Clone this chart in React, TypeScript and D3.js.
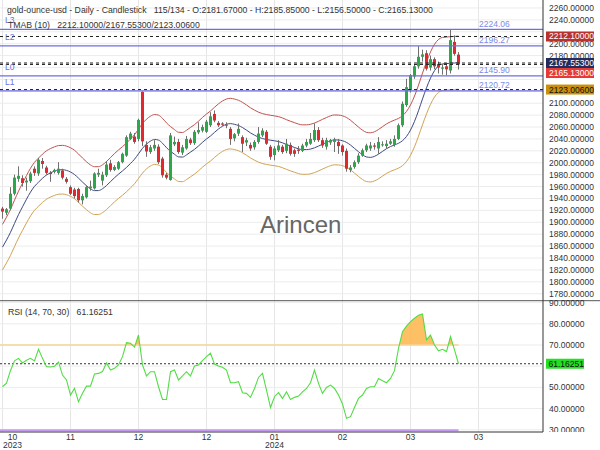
import React from 'react';
import * as d3 from 'd3';

const opens = [1923,1916,1923,1948,1973,1974,1967,1969,1990,1982,2003,1992,1983,1985,1983,1987,1973,1959,1955,1956,1937,1942,1957,1957,1980,1970,1979,1999,1988,1990,2001,2012,2040,2044,2040,2119,2030,2018,2024,2027,2007,1980,1971,2031,2035,2017,2024,2039,2033,2051,2054,2052,2063,2082,2067,2066,2064,2057,2041,2049,2043,2034,2030,2026,2035,2046,2052,2027,2013,2021,2027,2020,2030,2021,2022,2020,2029,2032,2038,2055,2038,2027,2034,2035,2035,2029,2020,1988,1993,2001,2012,2021,2024,2029,2024,2030,2028,2032,2030,2040,2063,2097,2122,2145,2162,2178,2184,2160,2174,2166,2158,2162,2155,2203,2181.67];
const highs = [1926,1924,1959,1980,1994,1979,1975,1985,1994,2008,2008,1995,1986,1990,2001,1990,1976,1962,1958,1958,1948,1962,1970,1984,1990,1985,2003,2005,1996,2003,2017,2046,2052,2050,2074,2120,2036,2030,2038,2031,2010,1983,2050,2044,2040,2030,2045,2042,2055,2068,2064,2072,2085,2088,2070,2068,2068,2060,2050,2066,2046,2042,2034,2038,2060,2058,2055,2030,2028,2038,2030,2040,2034,2024,2028,2032,2040,2050,2066,2060,2042,2042,2040,2042,2040,2031,2024,1996,2004,2016,2024,2032,2035,2033,2043,2036,2038,2040,2046,2066,2103,2141,2149,2166,2196,2190,2189,2180,2177,2170,2166,2167,2223,2214,2185.85];
const lows = [1906,1912,1920,1945,1968,1960,1953,1966,1978,1978,1990,1980,1968,1982,1980,1972,1965,1946,1940,1933,1930,1940,1953,1955,1976,1962,1976,1985,1986,1988,1999,2010,2038,2032,2036,2028,2010,2015,2020,1998,1975,1972,1970,2028,2015,2013,2022,2030,2030,2048,2051,2050,2060,2068,2060,2062,2058,2030,2036,2045,2018,2028,2020,2022,2032,2043,2030,2005,2004,2018,2015,2016,2012,2010,2015,2018,2026,2030,2035,2035,2025,2022,2030,2018,2015,2012,1985,1984,1990,1998,2010,2018,2020,2022,2015,2027,2024,2030,2027,2038,2060,2094,2118,2141,2158,2170,2155,2155,2157,2150,2148,2147,2150,2180,2156.5];
const closes = [1918,1922,1948,1975,1978,1966,1970,1982,1983,2005,1998,1983,1981,1988,1990,1975,1968,1948,1944,1937,1944,1959,1960,1982,1983,1980,1997,1988,1993,2001,2015,2043,2049,2035,2072,2036,2019,2026,2030,2001,1979,1975,2046,2035,2018,2026,2040,2033,2052,2055,2060,2069,2078,2071,2063,2064,2063,2040,2048,2057,2032,2038,2024,2035,2049,2054,2032,2010,2024,2029,2018,2032,2015,2015,2020,2029,2035,2040,2055,2038,2029,2038,2038,2039,2028,2018,1990,1992,2001,2012,2021,2029,2029,2027,2035,2031,2032,2036,2040,2063,2099,2127,2147,2162,2178,2182,2158,2174,2162,2160,2160,2157,2206,2183,2165.13];
// closes before the first visible candle (needed to start the TMA band)
const warmupCloses = [1827,1822,1821,1820,1833,1861,1861,1874,1868,1932];

const rsiValues = [50.3,52,58,62.5,63.7,61.5,62.8,63.7,62.5,68,63.7,59.8,59.6,60,62,55.8,53.5,46.4,49.5,43.2,47.2,50.6,50.6,56.3,56.6,57.5,61.5,58.2,59,60.6,64.5,71.1,70.8,69,74.7,60.6,55.4,57.4,57.4,50.3,44.3,44.3,57.4,58.2,53.5,55.4,57.4,55.4,60.1,60.6,62.6,64.5,66.1,61,60.1,59.5,58.2,52.2,52.2,52.7,47.5,47.2,45.3,49.5,54.7,56.6,48.7,40.5,45.6,47.5,44.8,47.9,44.3,45.3,45.9,47.9,49.5,52.2,58.2,51.9,47.2,50,51.1,49.5,46.4,42.2,35.4,36.2,40.5,44.8,46.4,49.5,50.3,50.3,54.2,53.1,52.2,54.2,57.9,68.4,76.3,78.9,81,82.6,84,84.6,72.4,74.7,70,67.3,68,66.9,74,67.7,61.16251];

const levelNames = ['L3', 'L2', 'L0', 'L1'];
const levelValues = [2224.06, 2196.27, 2145.90, 2120.72];
const tmabLast = [2212.1, 2167.553, 2123.006];
const tmabPercent = 2.055;
const lastClose = 2165.13;
const rsiLast = 61.16251;
const totalSlots = 134;
const xTickIndex = [0, 17, 34, 51, 68, 85, 102, 119];
const xTickMonth = ['10', '11', '12', '12', '01', '02', '03', '03'];
const xTickYear = ['2023', '', '', '', '2024', '', '', ''];
const priceTicks = d3.range(1780, 2261, 20);
const rsiTicks = [30, 40, 50, 60, 70, 80, 90];

const FONT = '"Liberation Sans", Arial, sans-serif';
const PLOT_R = 543;
const MAIN_BOT = 300.7;
const RSI_TOP = 300.7;
const RSI_BOT = 432;
const AX_FS = 8.5;

function sma(arr: number[], n: number): number[] {
  return arr.map((_, i) => {
    if (i < n - 1) return NaN;
    const s = arr.slice(i - n + 1, i + 1);
    if (s.some((v) => isNaN(v))) return NaN;
    return d3.sum(s) / n;
  });
}

export default function App() {
  const x = d3.scaleLinear().domain([0, totalSlots - 1]).range([2.5, 2.5 + 4 * (totalSlots - 1)]);
  const y = d3.scaleLinear().domain([1768.3, 2273.4]).range([MAIN_BOT, 0]);
  const yr = d3.scaleLinear().domain([28.96, 90.9]).range([RSI_BOT, RSI_TOP]);

  const all = [...warmupCloses, ...closes];
  const tmaAll = sma(sma(all, 5), 6);
  const tma = tmaAll.slice(warmupCloses.length);
  const k = tmabPercent / 100;
  const mid = tma.map((v, i) => [i, v] as [number, number]);
  const up = tma.map((v, i) => [i, v * (1 + k)] as [number, number]);
  const lo = tma.map((v, i) => [i, v * (1 - k)] as [number, number]);
  const line = d3.line<[number, number]>().x((d) => x(d[0])).y((d) => y(d[1])).curve(d3.curveMonotoneX);

  const rsiLine = d3.line<number>().x((_, i) => x(i)).y((d) => yr(d));
  const rsiArea = d3.area<number>().x((_, i) => x(i)).y0(yr(70)).y1((d) => yr(d));
  const lastX = x(closes.length - 1);

  // price boxes with collision avoidance
  const boxes = [
    { v: tmabLast[0], bg: '#b8322e', fg: '#fff' },
    { v: tmabLast[1], bg: '#232b5e', fg: '#fff' },
    { v: lastClose, bg: '#e53a35', fg: '#fff' },
    { v: tmabLast[2], bg: '#c8900c', fg: '#111' },
  ].sort((a, b) => b.v - a.v);
  let prevY = -100;
  const placed = boxes.map((b) => {
    let cy = y(b.v);
    if (cy < prevY + 10) cy = prevY + 10;
    prevY = cy;
    return { ...b, cy };
  });
  const coveredPrice = (t: number) => placed.some((b) => Math.abs(y(t) - b.cy) < 7);
  const coveredRsi = (t: number) => Math.abs(yr(t) - yr(rsiLast)) < 7;

  return (
    <svg width={600} height={450} style={{ position: 'fixed', left: 0, top: 0, background: '#fff' }} fontFamily={FONT}>
      <defs>
        <clipPath id="above70">
          <rect x={0} y={RSI_TOP} width={PLOT_R} height={yr(70) - RSI_TOP} />
        </clipPath>
        <clipPath id="rsiAxis">
          <rect x={544} y={295} width={56} height={RSI_BOT - 295} />
        </clipPath>
        <clipPath id="mainClip">
          <rect x={0} y={0} width={PLOT_R} height={MAIN_BOT} />
        </clipPath>
      </defs>
      <rect x={0} y={0} width={600} height={450} fill="#fff" />
      {/* grid */}
      {xTickIndex.map((t, i) => (
        <line key={'vg' + i} x1={x(t)} x2={x(t)} y1={0} y2={RSI_BOT} stroke="#e6e6e6" strokeWidth={1} />
      ))}
      {priceTicks.map((t) => (
        <line key={'hg' + t} x1={0} x2={PLOT_R} y1={y(t)} y2={y(t)} stroke="#ececec" strokeWidth={1} />
      ))}
      {rsiTicks.map((t) => (
        <line key={'rg' + t} x1={0} x2={PLOT_R} y1={yr(t)} y2={yr(t)} stroke="#ececec" strokeWidth={1} />
      ))}
      {/* watermark */}
      <text x={260} y={232.5} fontSize={24} fill="#666">Arincen</text>

      <g clipPath="url(#mainClip)">
        {/* TMA bands */}
        <path d={line(up) || ''} fill="none" stroke="#c4504c" strokeWidth={1} />
        <path d={line(mid) || ''} fill="none" stroke="#3c4a82" strokeWidth={1} />
        <path d={line(lo) || ''} fill="none" stroke="#d3a24e" strokeWidth={1} />
        {/* candles */}
        {closes.map((c, i) => {
          const o = opens[i];
          const up2 = c >= o;
          const col = up2 ? '#2aa84a' : '#e0282e';
          const top = y(Math.max(o, c));
          const bot = y(Math.min(o, c));
          return (
            <g key={'c' + i}>
              <line x1={x(i)} x2={x(i)} y1={y(highs[i])} y2={y(lows[i])} stroke="#707070" strokeWidth={1} />
              <rect x={x(i) - 1.5} y={top} width={3} height={Math.max(1, bot - top)} fill={col} />
            </g>
          );
        })}
        {/* levels */}
        {levelValues.map((v, i) => (
          <line key={'lv' + i} x1={0} x2={PLOT_R} y1={y(v)} y2={y(v)} stroke="#6e6ee6" strokeWidth={1.3} />
        ))}
        {[tmabLast[0], tmabLast[1], lastClose, tmabLast[2]].map((v, i) => (
          <line key={'dl' + i} x1={0} x2={PLOT_R} y1={y(v)} y2={y(v)} stroke="#222" strokeWidth={1} strokeDasharray="3,3" />
        ))}
      </g>
      {levelValues.map((v, i) => (
        <g key={'lt' + i}>
          <text x={5} y={y(v) - 6} fontSize={8.5} fill="#6a72dc">{levelNames[i]}</text>
          <text x={479} y={y(v) - 2.5} fontSize={8.5} fill="#7b8ae4">{v.toFixed(2)}</text>
        </g>
      ))}

      {/* RSI */}
      <path d={rsiArea(rsiValues) || ''} fill="#fdb54a" fillOpacity={0.85} clipPath="url(#above70)" />
      <line x1={0} x2={lastX} y1={yr(70)} y2={yr(70)} stroke="#f6d495" strokeWidth={1.5} />
      <line x1={0} x2={lastX} y1={yr(30) + 0.5} y2={yr(30) + 0.5} stroke="#c49af2" strokeWidth={2} />
      <line x1={0} x2={PLOT_R} y1={yr(rsiLast)} y2={yr(rsiLast)} stroke="#333" strokeWidth={1} strokeDasharray="2,2" />
      <path d={rsiLine(rsiValues) || ''} fill="none" stroke="#52dd45" strokeWidth={1.1} />

      {/* frame */}
      <line x1={0} x2={600} y1={RSI_TOP} y2={RSI_TOP} stroke="#555" strokeWidth={1} />
      <line x1={0} x2={PLOT_R} y1={RSI_BOT} y2={RSI_BOT} stroke="#333" strokeWidth={1} />
      <line x1={PLOT_R} x2={PLOT_R} y1={0} y2={RSI_BOT} stroke="#333" strokeWidth={1} />

      {/* price axis */}
      {priceTicks.filter((t) => !coveredPrice(t)).map((t) => (
        <text key={'pt' + t} x={549} y={y(t) + 3} fontSize={AX_FS} fill="#333">{t.toFixed(5)}</text>
      ))}
      <g clipPath="url(#rsiAxis)">
        {rsiTicks.filter((t) => !coveredRsi(t)).map((t) => (
          <text key={'rt' + t} x={549} y={yr(t) + 3} fontSize={AX_FS} fill="#333">{t.toFixed(5)}</text>
        ))}
      </g>
      {placed.map((b, i) => (
        <g key={'bx' + i}>
          <rect x={546} y={b.cy - 5} width={48} height={10} fill={b.bg} />
          <text x={549} y={b.cy + 3} fontSize={AX_FS} fill={b.fg}>{b.v.toFixed(5)}</text>
        </g>
      ))}
      <rect x={546} y={yr(rsiLast) - 5} width={38} height={10} fill="#22e022" />
      <text x={548.5} y={yr(rsiLast) + 3} fontSize={AX_FS} fill="#111">{rsiLast.toFixed(5)}</text>

      {/* x axis */}
      {xTickIndex.map((t, i) => {
        const cx = Math.max(x(t), 12.5);
        return (
          <g key={'xt' + i}>
            <text x={cx} y={439.5} fontSize={AX_FS} fill="#333" textAnchor="middle">{xTickMonth[i]}</text>
            {xTickYear[i] && (
              <text x={cx} y={448} fontSize={AX_FS} fill="#333" textAnchor="middle">{xTickYear[i]}</text>
            )}
          </g>
        );
      })}

      {/* titles */}
      <text x={7} y={13} fontSize={8.7} fill="#333" style={{ whiteSpace: 'pre' }}>
        {'gold-ounce-usd - Daily - Candlestick   115/134 - O:2181.67000 - H:2185.85000 - L:2156.50000 - C:2165.13000'}
      </text>
      <text x={8} y={28} fontSize={8.7} fill="#333" style={{ whiteSpace: 'pre' }}>
        {'TMAB (10)   ' + tmabLast.map((v) => v.toFixed(5)).join('/')}
      </text>
      <text x={8} y={315} fontSize={8.7} fill="#333" style={{ whiteSpace: 'pre' }}>
        {'RSI (14, 70, 30)   ' + rsiLast.toFixed(5)}
      </text>
    </svg>
  );
}
